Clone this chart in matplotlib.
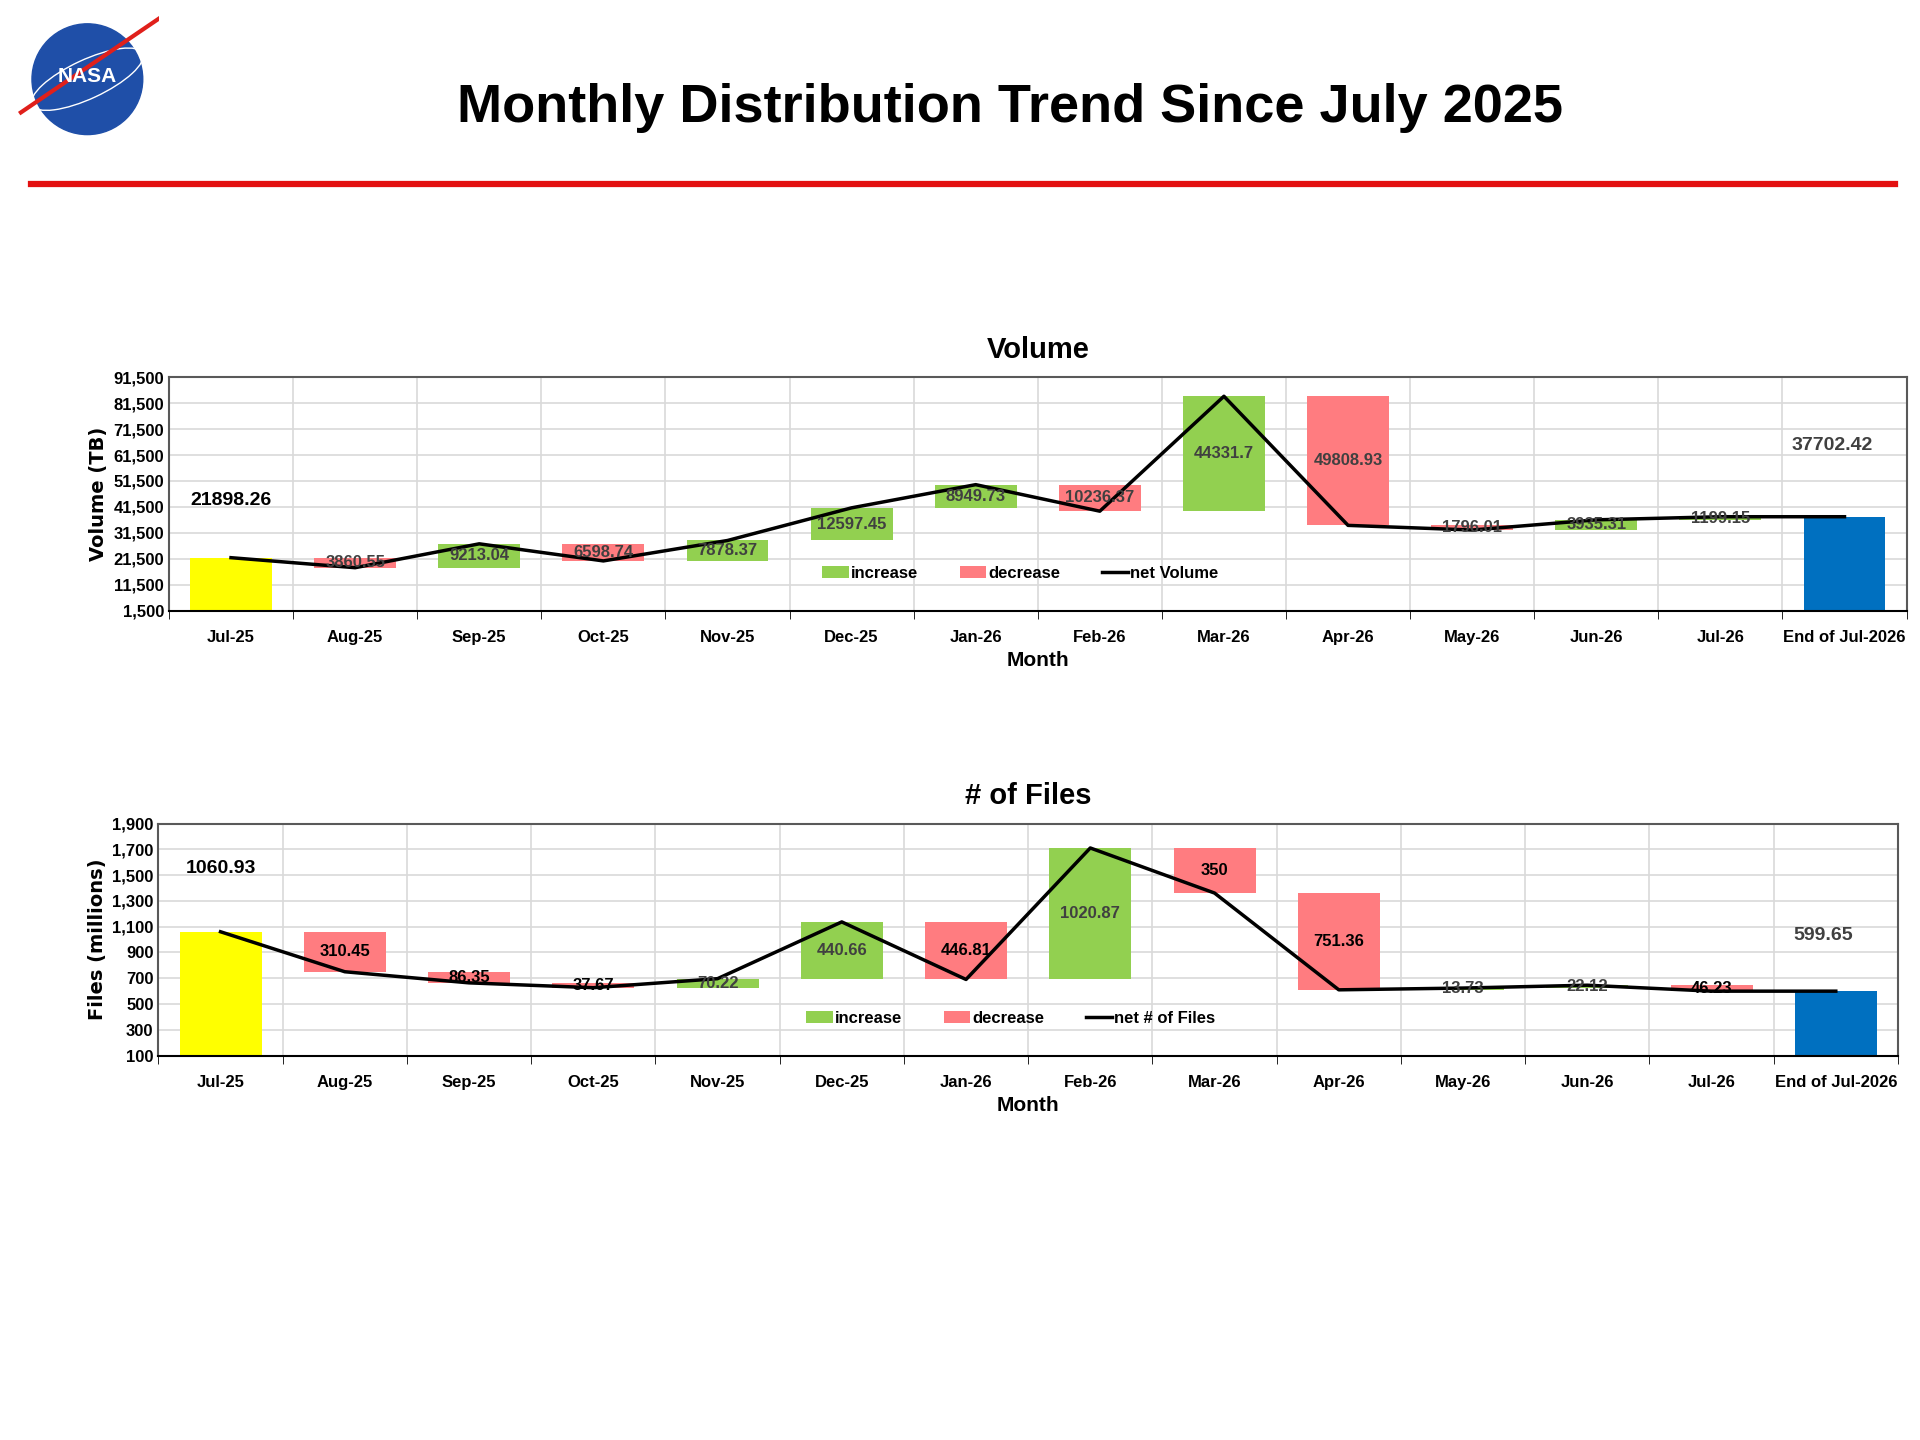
import matplotlib
matplotlib.use("Agg")
import matplotlib.pyplot as plt
from matplotlib.patches import Circle, Ellipse
import numpy as np

plt.rcParams['font.family'] = ['Liberation Sans', 'DejaVu Sans']

months = ["Jul-25", "Aug-25", "Sep-25", "Oct-25", "Nov-25", "Dec-25", "Jan-26",
          "Feb-26", "Mar-26", "Apr-26", "May-26", "Jun-26", "Jul-26", "End of Jul-2026"]

vol_start = 21898.26
vol_changes = [-3860.55, 9213.04, -6598.74, 7878.37, 12597.45, 8949.73, -10236.37,
               44331.7, -49808.93, -1796.01, 3935.31, 1199.15]
vol_end = 37702.42

files_start = 1060.93
files_changes = [-310.45, -86.35, -37.67, 70.22, 440.66, -446.81, 1020.87,
                 -350, -751.36, 13.73, 22.12, -46.23]
files_end = 599.65

GREEN = "#92d050"
RED = "#ff7c80"
YELLOW = "#ffff00"
BLUE = "#0070c0"


def waterfall(ax, start, changes, end, ymin, ymax, ystep, ylabel, title, netname,
              start_lab_y, end_lab_y, bold_labels):
    n = len(changes) + 2
    x = np.arange(n)
    w = 0.66
    cum = start + np.concatenate([[0], np.cumsum(changes)])
    net = np.concatenate([cum, [end]])
    ax.bar(0, start - ymin, bottom=ymin, width=w, color=YELLOW, zorder=2)
    ax.bar(n - 1, end - ymin, bottom=ymin, width=w, color=BLUE, zorder=2)
    for i, d in enumerate(changes):
        lo = min(cum[i], cum[i + 1])
        ax.bar(i + 1, abs(d), bottom=lo, width=w, color=GREEN if d > 0 else RED, zorder=2)
        ax.text(i + 1, lo + abs(d) / 2, str(abs(d)), ha="center", va="center", fontsize=12,
                fontweight="bold", color="black" if bold_labels[i] else "#404040", zorder=4)
    ax.plot(x, net, color="black", lw=2.5, zorder=3, label=netname)
    ax.text(0, start_lab_y, f"{start:.2f}", ha="center", va="center", fontsize=14, fontweight="bold")
    ax.text(n - 1 - 0.1, end_lab_y, f"{end:.2f}", ha="center", va="center", fontsize=14,
            fontweight="bold", color="#404040")
    ax.bar([0], [0], color=GREEN, label="increase")
    ax.bar([0], [0], color=RED, label="decrease")
    h, l = ax.get_legend_handles_labels()
    ax.legend([h[1], h[2], h[0]], [l[1], l[2], l[0]], ncol=3, frameon=False,
              loc="center", bbox_to_anchor=(0.49, 0.16), handlelength=1.6, handletextpad=0.1,
              columnspacing=2.5, prop={"weight": "bold", "size": 12})
    ax.set_xlim(-0.5, n - 0.5)
    ax.set_ylim(ymin, ymax)
    ax.set_yticks(np.arange(ymin, ymax + 1, ystep))
    ax.yaxis.set_major_formatter(matplotlib.ticker.StrMethodFormatter("{x:,.0f}"))
    ax.set_xticks(x)
    ax.set_xticklabels(months, fontweight="bold", fontsize=12)
    ax.set_xticks(np.arange(-0.5, n, 1), minor=True)
    ax.tick_params(axis="x", which="major", length=0, pad=14)
    ax.tick_params(axis="x", which="minor", length=6, direction="out")
    ax.tick_params(axis="y", length=0, labelsize=12)
    for t in ax.get_yticklabels():
        t.set_fontweight("bold")
    ax.grid(axis="y", color="#d9d9d9", lw=1.2, zorder=0)
    ax.grid(axis="x", which="minor", color="#d9d9d9", lw=1.2, zorder=0)
    ax.set_axisbelow(True)
    for s in ax.spines.values():
        s.set_color("#595959")
        s.set_linewidth(1.5)
    ax.spines["bottom"].set_color("black")
    ax.set_xlabel("Month", fontsize=15, fontweight="bold", labelpad=4)
    ax.set_ylabel(ylabel, fontsize=14, fontweight="bold", family="DejaVu Sans")
    ax.set_title(title, fontsize=21, fontweight="bold", pad=14)


fig = plt.figure(figsize=(19.2, 14.4), dpi=100)

fig.text(0.526, 0.925, "Monthly Distribution Trend Since July 2025", ha="center", va="center",
         fontsize=39, fontweight="bold")
fig.add_artist(plt.Line2D([0.016, 0.987], [0.872, 0.872], color="#e31010", lw=4.5))

# simple logo
lax = fig.add_axes([0.008, 0.895, 0.075, 0.1])
lax.set_xlim(-1.3, 1.3)
lax.set_ylim(-1.3, 1.3)
lax.set_aspect("equal")
lax.axis("off")
lax.add_patch(Circle((0, 0), 1.0, color="#1f4fa8"))
lax.add_patch(Ellipse((0, 0), 2.2, 0.7, angle=25, fill=False, ec="white", lw=1))
lax.plot([-1.2, 1.3], [-0.6, 1.1], color="#e0201b", lw=3)
lax.text(0, 0.05, "NASA", color="white", ha="center", va="center", fontsize=15, fontweight="bold")

ax1 = fig.add_axes([0.088, 0.576, 0.905, 0.162])
waterfall(ax1, vol_start, vol_changes, vol_end, 1500, 91500, 10000, "Volume (TB)", "Volume",
          "net Volume", 44000, 65000, [False] * 12)

ax2 = fig.add_axes([0.0825, 0.267, 0.906, 0.161])
waterfall(ax2, files_start, files_changes, files_end, 100, 1900, 200, "Files (millions)", "# of Files",
          "net # of Files", 1550, 1030,
          [True, True, True, False, False, True, False, True, True, False, False, True])

fig.savefig("out.png", dpi=100)
